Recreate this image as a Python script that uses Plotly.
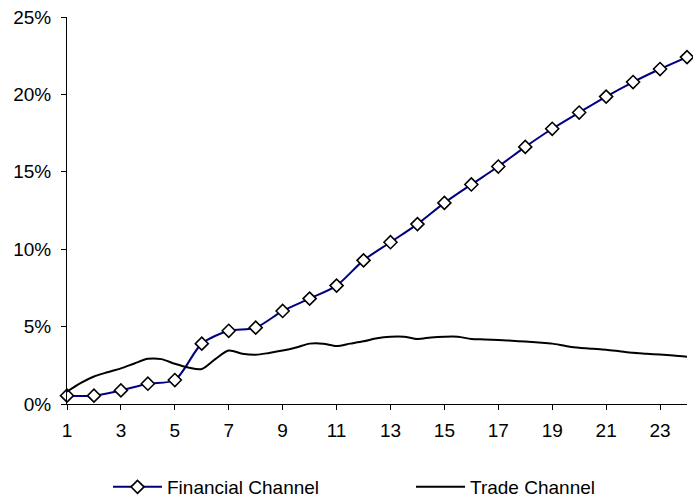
import plotly.graph_objects as go

periods = list(range(1, 25))
financial = [0.54, 0.54, 0.88, 1.31, 1.55, 3.9, 4.73, 4.93, 6.01, 6.81, 7.65, 9.28,
             10.45, 11.62, 12.99, 14.18, 15.34, 16.61, 17.78, 18.83, 19.86, 20.8, 21.64, 22.41]

trade_x = [1 + 0.5 * i for i in range(47)]
trade = [0.8, 1.35, 1.78, 2.05, 2.3, 2.62, 2.92, 2.9, 2.6, 2.36, 2.26, 2.9,
         3.45, 3.25, 3.18, 3.3, 3.45, 3.65, 3.9, 3.9, 3.75, 3.9, 4.05, 4.25,
         4.35, 4.35, 4.2, 4.3, 4.35, 4.35, 4.2, 4.17, 4.13, 4.09, 4.03, 3.97,
         3.9, 3.75, 3.63, 3.57, 3.51, 3.41, 3.31, 3.25, 3.19, 3.13, 3.05]

x_ticks = list(range(1, 24, 2))
y_ticks = [0, 5, 10, 15, 20, 25]
y_labels = ["0%", "5%", "10%", "15%", "20%", "25%"]

FONT = "Arial, Liberation Sans, sans-serif"

fig = go.Figure()
fig.add_trace(go.Scatter(
    x=periods, y=financial, name="Financial Channel", mode="lines+markers",
    line=dict(color="#000080", width=2, shape="spline", smoothing=0.8),
    marker=dict(symbol="diamond", size=10, color="white",
                line=dict(color="black", width=1.6)),
    legend="legend", cliponaxis=False,
))
fig.add_trace(go.Scatter(
    x=trade_x, y=trade, name="Trade Channel", mode="lines",
    line=dict(color="black", width=2, shape="spline", smoothing=0.8),
    legend="legend2", cliponaxis=False,
))

leg_common = dict(orientation="h", xanchor="left", y=-0.2145, yanchor="middle",
                  itemwidth=49, font=dict(size=19, family=FONT),
                  bgcolor="rgba(0,0,0,0)")

fig.update_layout(
    width=693, height=500,
    margin=dict(l=67, r=6, t=17, b=96, autoexpand=False),
    paper_bgcolor="white", plot_bgcolor="white",
    font=dict(family=FONT, size=19, color="black"),
    showlegend=True,
    legend=dict(x=(108 - 67) / 620, **leg_common),
    legend2=dict(x=(411 - 67) / 620, **leg_common),
    xaxis=dict(range=[1, 24], tickvals=x_ticks, ticks="outside", ticklen=5,
               tickcolor="black", showline=True, linecolor="black", linewidth=1,
               showgrid=False, zeroline=False, ticklabelstandoff=4, automargin=False),
    yaxis=dict(range=[0, 25], tickvals=y_ticks, ticktext=y_labels, ticks="outside",
               ticklen=5, tickcolor="black", showline=True, linecolor="black",
               linewidth=1, showgrid=False, zeroline=False, ticklabelstandoff=6,
               automargin=False),
    xaxis2=dict(overlaying="x", range=[1, 24], tickvals=x_ticks, ticks="inside",
                ticklen=5, tickcolor="black", showticklabels=False, showgrid=False,
                zeroline=False, side="bottom", anchor="y", automargin=False),
    yaxis2=dict(overlaying="y", range=[0, 25], tickvals=y_ticks, ticks="inside",
                ticklen=5, tickcolor="black", showticklabels=False, showgrid=False,
                zeroline=False, side="left", anchor="x", automargin=False),
)

fig.write_html("out.html", config={"displayModeBar": False},
               post_script="document.body.style.margin='0';document.body.style.overflow='hidden';")
